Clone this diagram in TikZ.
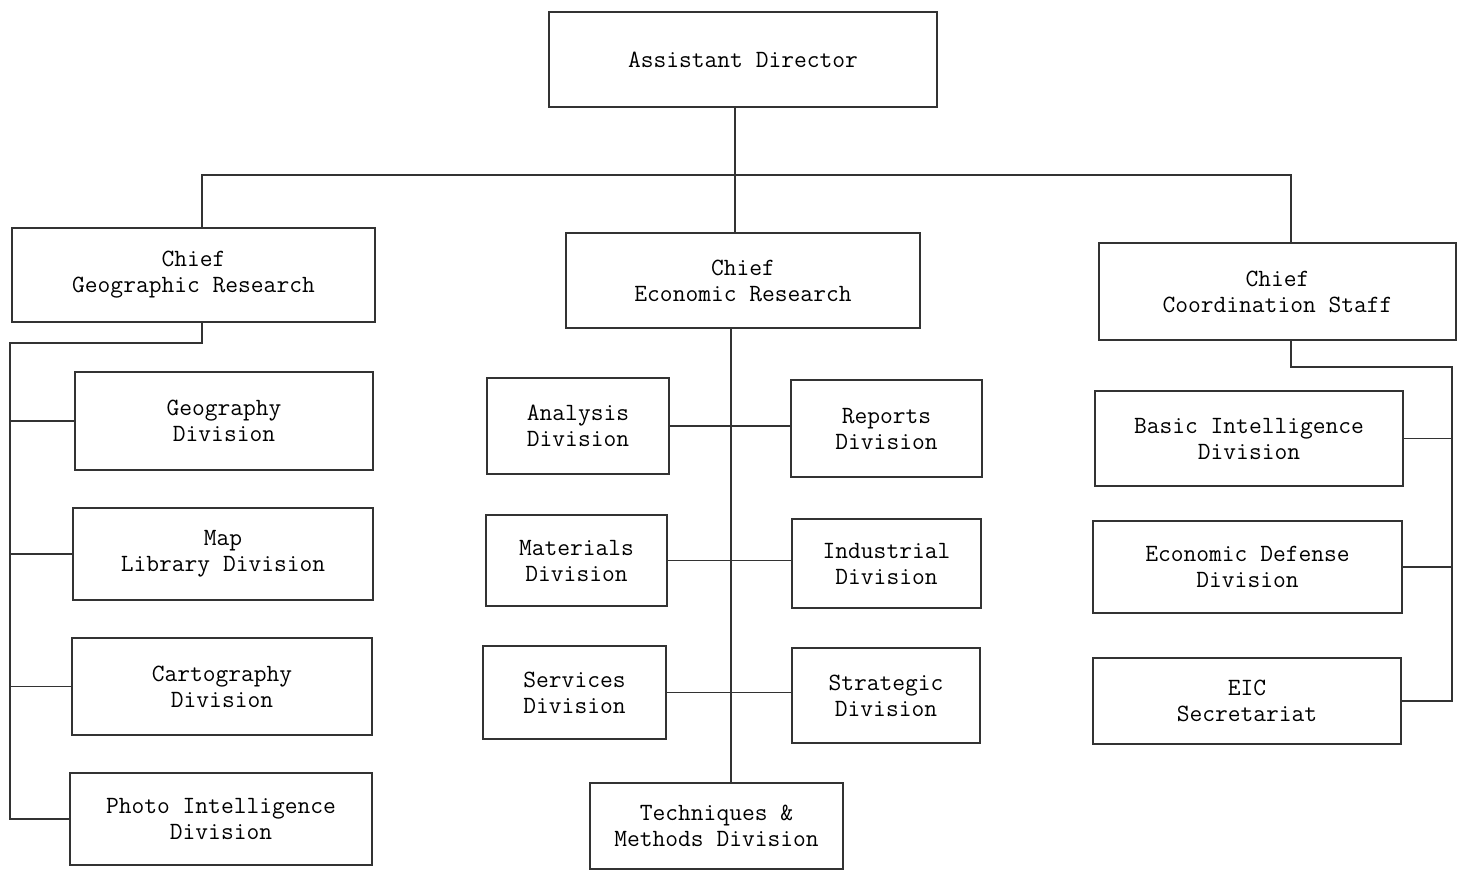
\documentclass[tikz,border=0pt]{standalone}
\usepackage{fontspec}
\usepackage{tikz}

\begin{document}
\begin{tikzpicture}[x=0.5pt,y=-0.5pt,
    unit/.style={draw=black!80,line width=0.8pt,inner sep=0pt,align=center,
      font=\ttfamily\fontsize{12.4}{13}\selectfont},
    link/.style={draw=black!80,line width=0.8pt}]
\useasboundingbox (0,0) rectangle (1462,871);

% top
\node[unit,minimum width=194pt,minimum height=47.5pt] (asst) at (743,59.5) {Assistant Director};
\node[unit,minimum width=181.5pt,minimum height=47pt] (geo) at (193.5,275) {Chief\\Geographic Research};
\node[unit,minimum width=177pt,minimum height=47.5pt] (econ) at (743,280.5) {Chief\\Economic Research};
\node[unit,minimum width=178.5pt,minimum height=48.5pt] (coord) at (1277.5,291.5) {Chief\\Coordination Staff};

% geographic
\node[unit,minimum width=149pt,minimum height=49pt] (geography) at (224,421) {Geography\\Division};
\node[unit,minimum width=150pt,minimum height=46pt] (maplib) at (223,554) {Map\\Library Division};
\node[unit,minimum width=150pt,minimum height=48.5pt] (carto) at (222,686.5) {Cartography\\Division};
\node[unit,minimum width=151pt,minimum height=46pt] (photo) at (221,819) {Photo Intelligence\\Division};

% economic
\node[unit,minimum width=91pt,minimum height=48pt] (analysis) at (578,426) {Analysis\\Division};
\node[unit,minimum width=95.5pt,minimum height=48.5pt] (reports) at (886.5,428.5) {Reports\\Division};
\node[unit,minimum width=90.5pt,minimum height=45.5pt] (materials) at (576.5,560.5) {Materials\\Division};
\node[unit,minimum width=94.5pt,minimum height=44.5pt] (industrial) at (886.5,563.5) {Industrial\\Division};
\node[unit,minimum width=91.5pt,minimum height=46.5pt] (services) at (574.5,692.5) {Services\\Division};
\node[unit,minimum width=94pt,minimum height=47.5pt] (strategic) at (886,695.5) {Strategic\\Division};
\node[unit,minimum width=126.5pt,minimum height=43pt] (techniques) at (716.5,826) {Techniques \&\\Methods Division};

% coordination
\node[unit,minimum width=154pt,minimum height=47.5pt] (basic) at (1249,438.5) {Basic Intelligence\\Division};
\node[unit,minimum width=154.5pt,minimum height=46pt] (econdef) at (1247.5,567) {Economic Defense\\Division};
\node[unit,minimum width=154pt,minimum height=43pt] (eic) at (1247,701) {EIC\\Secretariat};

\coordinate (bar) at (735,175);
\coordinate (barL) at (202,175);
\coordinate (barR) at (1291,175);
\coordinate (geoSpine) at (10,343);
\coordinate (trunk) at (731,330);
\coordinate (coordSpine) at (1452,367);

\draw[link] (asst.south -| bar) -- (bar |- econ.north);
\draw[link] (barL |- geo.north) -- (barL) -- (barR) -- (barR |- coord.north);

\draw[link] (geo.south -| barL) |- (geoSpine) -- (geoSpine |- photo.west) -- (photo.west);
\foreach \n in {geography,maplib,carto}
  \draw[link] (geoSpine |- \n.west) -- (\n.west);

\draw[link] (econ.south -| trunk) -- (trunk |- techniques.north);
\draw[link] (analysis.east) -- (analysis.east -| reports.west);
\draw[link] (materials.east) -- (materials.east -| industrial.west);
\draw[link] (services.east) -- (services.east -| strategic.west);

\draw[link] (coord.south -| barR) |- (coordSpine) -- (coordSpine |- eic.east) -- (eic.east);
\foreach \n in {basic,econdef}
  \draw[link] (coordSpine |- \n.east) -- (\n.east);
\end{tikzpicture}
\end{document}
